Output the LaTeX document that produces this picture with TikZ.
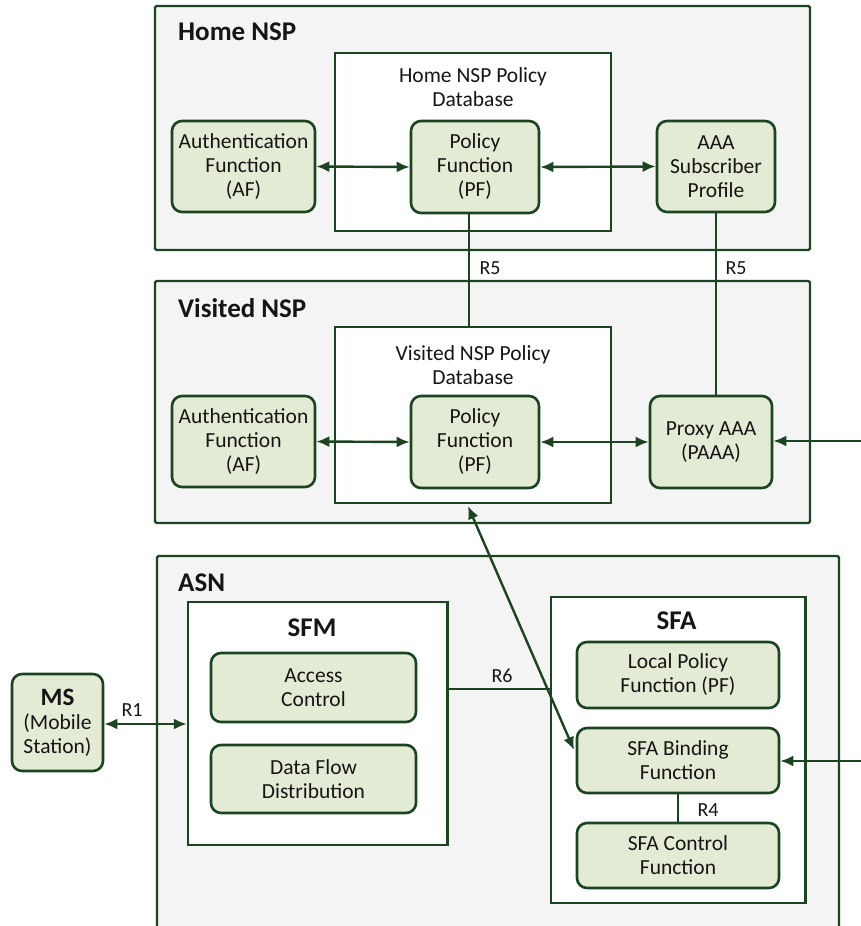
\documentclass[tikz,border=0pt]{standalone}
\usepackage{fontspec}
\setmainfont{Carlito}
\usetikzlibrary{arrows.meta}
\definecolor{dg}{HTML}{1B4520}
\definecolor{fg}{HTML}{E4EBD4}
\definecolor{bg}{HTML}{F3F4F3}
\definecolor{tx}{HTML}{151515}
\tikzset{
  region/.style={draw=dg, line width=2.4pt, fill=bg, rounded corners=1.5pt, inner sep=0pt},
  dbbox/.style={draw=dg, line width=2.4pt, fill=white, inner sep=0pt},
  fn/.style={draw=dg, line width=2.6pt, fill=fg, rounded corners=10pt, align=center, inner sep=0pt,
    text=tx, font=\fontsize{21.5}{24}\selectfont},
  txt/.style={align=center, inner sep=0pt, text=tx, font=\fontsize{21.5}{24}\selectfont},
  title/.style={anchor=west, inner sep=0pt, text=tx, font=\fontsize{27}{28}\selectfont\bfseries},
  lbl/.style={inner sep=0pt, text=tx, font=\fontsize{20}{20}\selectfont},
  conn/.style={draw=dg, line width=2.4pt},
  biarr/.style={conn, {Latex[length=13pt,width=11pt]}-{Latex[length=13pt,width=11pt]}},
  onearr/.style={conn, -{Latex[length=13pt,width=11pt]}}
}
\begin{document}
\begin{tikzpicture}[x=1pt,y=-1pt]
\useasboundingbox (0,0) rectangle (861,926);
\clip (0,0) rectangle (861,926);
% Home NSP
\node[region, minimum width=655pt, minimum height=244pt] (home) at (482.5,128) {};
\node[title] (homet) at (178,32) {Home NSP};
\node[dbbox, minimum width=276pt, minimum height=178pt] (hdb) at (473,142) {};
\node[txt] (hdbt) at (473,87) {Home NSP Policy\\Database};
\node[fn, minimum width=143pt, minimum height=91pt] (haf) at (243.5,166.5) {Authentication\\Function\\(AF)};
\node[fn, minimum width=128pt, minimum height=92pt] (hpf) at (475,167) {Policy\\Function\\(PF)};
\node[fn, minimum width=118pt, minimum height=91pt] (aaa) at (716,166.5) {AAA\\Subscriber\\Profile};
% Visited NSP
\node[region, minimum width=655pt, minimum height=242pt] (vis) at (482.5,402) {};
\node[title] (vist) at (178,308) {Visited NSP};
\node[dbbox, minimum width=276pt, minimum height=176pt] (vdb) at (473,415) {};
\node[txt] (vdbt) at (473,365) {Visited NSP Policy\\Database};
\node[fn, minimum width=143pt, minimum height=91pt] (vaf) at (243.5,441.5) {Authentication\\Function\\(AF)};
\node[fn, minimum width=128pt, minimum height=92pt] (vpf) at (475,442) {Policy\\Function\\(PF)};
\node[fn, minimum width=122pt, minimum height=92pt] (paaa) at (711,442) {Proxy AAA\\(PAAA)};
% ASN
\node[region, minimum width=682pt, minimum height=390pt] (asn) at (498,751) {};
\node[title] (asnt) at (178,583) {ASN};
\node[dbbox, minimum width=259.5pt, minimum height=243pt] (sfm) at (317.75,723.5) {};
\node[txt, font=\fontsize{27}{28}\selectfont\bfseries] (sfmt) at (312,628) {SFM};
\node[fn, minimum width=205pt, minimum height=69pt] (acc) at (313.5,687.5) {Access\\Control};
\node[fn, minimum width=205pt, minimum height=68pt] (dfd) at (313.5,779) {Data Flow\\Distribution};
\node[dbbox, minimum width=254.6pt, minimum height=306pt] (sfa) at (678.3,750) {};
\node[txt, font=\fontsize{27}{28}\selectfont\bfseries] (sfat) at (676.5,621) {SFA};
\node[fn, minimum width=202pt, minimum height=66pt] (lpf) at (678,675) {Local Policy\\Function (PF)};
\node[fn, minimum width=202pt, minimum height=65pt] (sfab) at (678,760.5) {SFA Binding\\Function};
\node[fn, minimum width=202pt, minimum height=65pt] (sfac) at (678,855.5) {SFA Control\\Function};
% MS
\node[fn, minimum width=91pt, minimum height=97pt] (ms) at (57.5,722.5) {{\fontsize{25}{24}\selectfont\bfseries MS}\\(Mobile\\Station)};
% coordinates
\coordinate (r5x) at (469,0);
\coordinate (r6y) at (0,689);
\coordinate (eastA) at (861,441);
\coordinate (eastB) at (861,761);
\coordinate (dtop) at (468,506);
\coordinate (dbot) at (574,750);
% connectors
\draw[biarr] (haf.east) -- (hpf.west);
\draw[biarr] (hpf.east) -- (aaa.west);
\draw[conn] (hpf.south -| r5x) -- (vdb.north -| r5x);
\draw[conn] (aaa.south) -- (aaa.south |- paaa.north);
\node[lbl] (r5a) at (490,268) {R5};
\node[lbl] (r5b) at (736,268) {R5};
\draw[biarr] (vaf.east) -- (vpf.west);
\draw[biarr] (vpf.east) -- (paaa.west);
\draw[onearr] (eastA) -- (paaa.east |- eastA);
\draw[biarr] (dtop) -- (dbot);
\draw[biarr] (ms.east |- 0,724) -- (sfm.west |- 0,724);
\node[lbl] (r1) at (132,710) {R1};
\draw[conn] (sfm.east |- r6y) -- (sfa.west |- r6y);
\node[lbl] (r6) at (502,676) {R6};
\draw[conn] (sfab.south) -- (sfac.north);
\node[lbl] (r4) at (708,810) {R4};
\draw[onearr] (eastB) -- (sfab.east |- eastB);
\end{tikzpicture}
\end{document}
